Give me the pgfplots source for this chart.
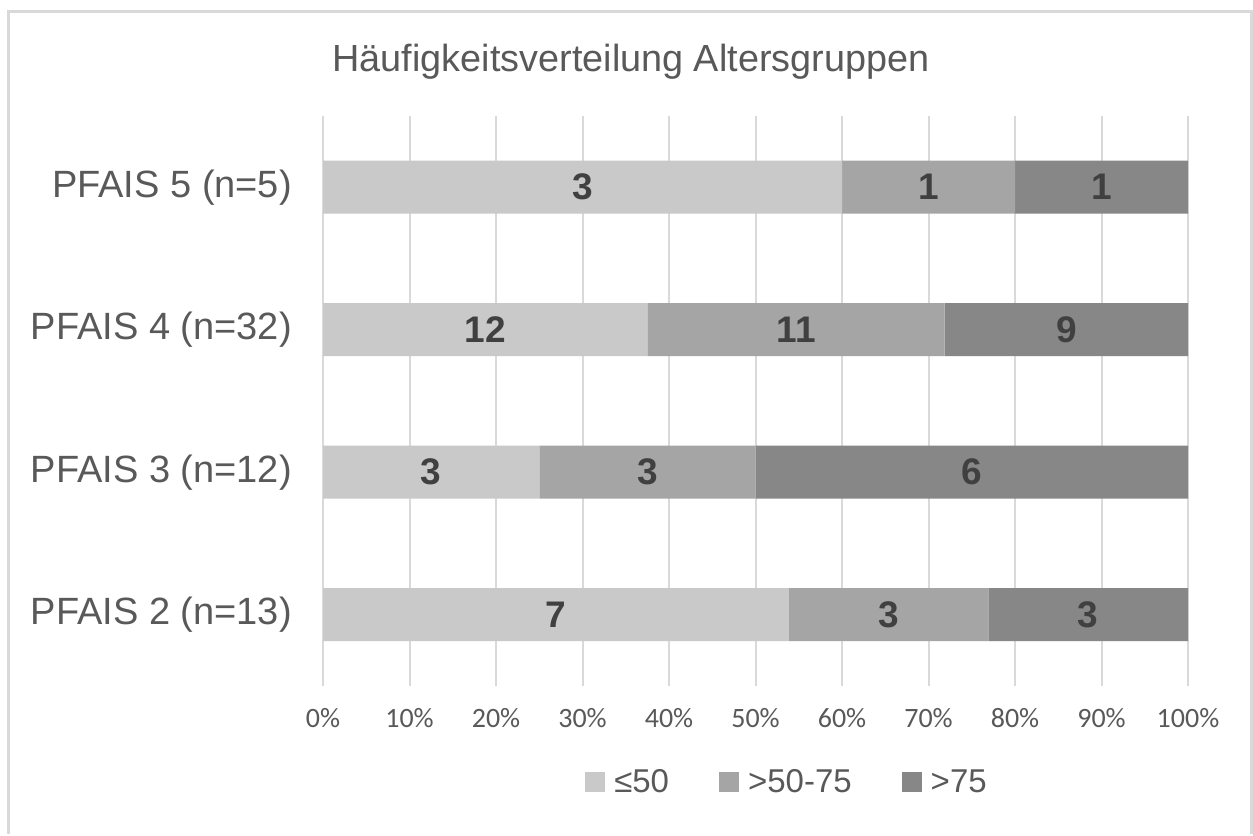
\documentclass[border=0pt]{standalone}
\usepackage{pgfplots}
\pgfplotsset{compat=1.18}
\usepackage{pgfplotstable}
\usepackage{fontspec}
\setmainfont{Liberation Sans}
\newfontfamily\calib{Carlito}
\definecolor{cA}{HTML}{C9C9C9}
\definecolor{cB}{HTML}{A5A5A5}
\definecolor{cC}{HTML}{878787}
\definecolor{txt}{HTML}{595959}
\definecolor{lbl}{HTML}{404040}
\definecolor{grd}{HTML}{D9D9D9}
\pgfplotstableread{
y c1 c2 c3 p1 p2 p3
0 7 3 3 53.846 23.077 23.077
1 3 3 6 25 25 50
2 12 11 9 37.5 34.375 28.125
3 3 1 1 60 20 20
}\data
\begin{document}
\begin{tikzpicture}[x=1bp,y=1bp]
\fill[white] (0,0) rectangle (1253,834);
\draw[grd, line width=3bp] (8.5,0) -- (8.5,822.5) -- (1251.5,822.5) -- (1251.5,0);
\node[text=txt, font=\fontsize{37.8bp}{40bp}\selectfont] at (631,772) {Häufigkeitsverteilung Altersgruppen};
\begin{axis}[
  at={(323bp,148bp)}, anchor=south west,
  scale only axis, width=865bp, height=570bp,
  xbar stacked, bar width=53bp,
  xmin=0, xmax=100, ymin=-0.5, ymax=3.5,
  xtick={0,10,...,100},
  xticklabel={\pgfmathprintnumber{\tick}\%},
  xticklabel style={font=\calib\fontsize{28bp}{30bp}\selectfont, text=txt, anchor=north, inner sep=0pt, yshift=-22bp},
  ytick={0,1,2,3},
  yticklabels={PFAIS 2 (n=13),PFAIS 3 (n=12),PFAIS 4 (n=32),PFAIS 5 (n=5)},
  yticklabel style={font=\fontsize{38bp}{40bp}\selectfont, text=txt, anchor=east, inner sep=0pt, xshift=-31bp},
  /pgf/number format/assume math mode=true,
  xmajorgrids, grid style={grd, line width=2bp},
  axis line style={draw=none}, tick style={draw=none},
  legend style={at={(axis description cs:0.5364,-0.1684)}, anchor=center, draw=none, fill=none,
    font=\fontsize{33bp}{36bp}\selectfont, text=txt, legend columns=-1,
    /tikz/every odd column/.append style={column sep=7bp},
    /tikz/every even column/.append style={column sep=48bp}},
  legend image code/.code={\fill[#1] (0bp,-10bp) rectangle (20bp,10bp);},
]
\addplot[fill=cA, draw=none] table[x=p1, y=y] {\data};
\addplot[fill=cB, draw=none] table[x=p2, y=y] {\data};
\addplot[fill=cC, draw=none] table[x=p3, y=y] {\data};
\legend{≤50,>50-75,>75}
\end{axis}
\begin{axis}[
  at={(323bp,148bp)}, anchor=south west,
  scale only axis, width=865bp, height=570bp,
  xmin=0, xmax=100, ymin=-0.5, ymax=3.5, hide axis,
  nodes near coords, point meta=explicit symbolic,
  nodes near coords style={anchor=center, font=\bfseries\fontsize{37bp}{40bp}\selectfont, text=lbl},
]
\addplot[only marks, mark size=0pt] table[x expr=\thisrow{p1}/2, y=y, meta=c1] {\data};
\addplot[only marks, mark size=0pt] table[x expr=\thisrow{p1}+\thisrow{p2}/2, y=y, meta=c2] {\data};
\addplot[only marks, mark size=0pt] table[x expr=\thisrow{p1}+\thisrow{p2}+\thisrow{p3}/2, y=y, meta=c3] {\data};
\end{axis}
\end{tikzpicture}
\end{document}
